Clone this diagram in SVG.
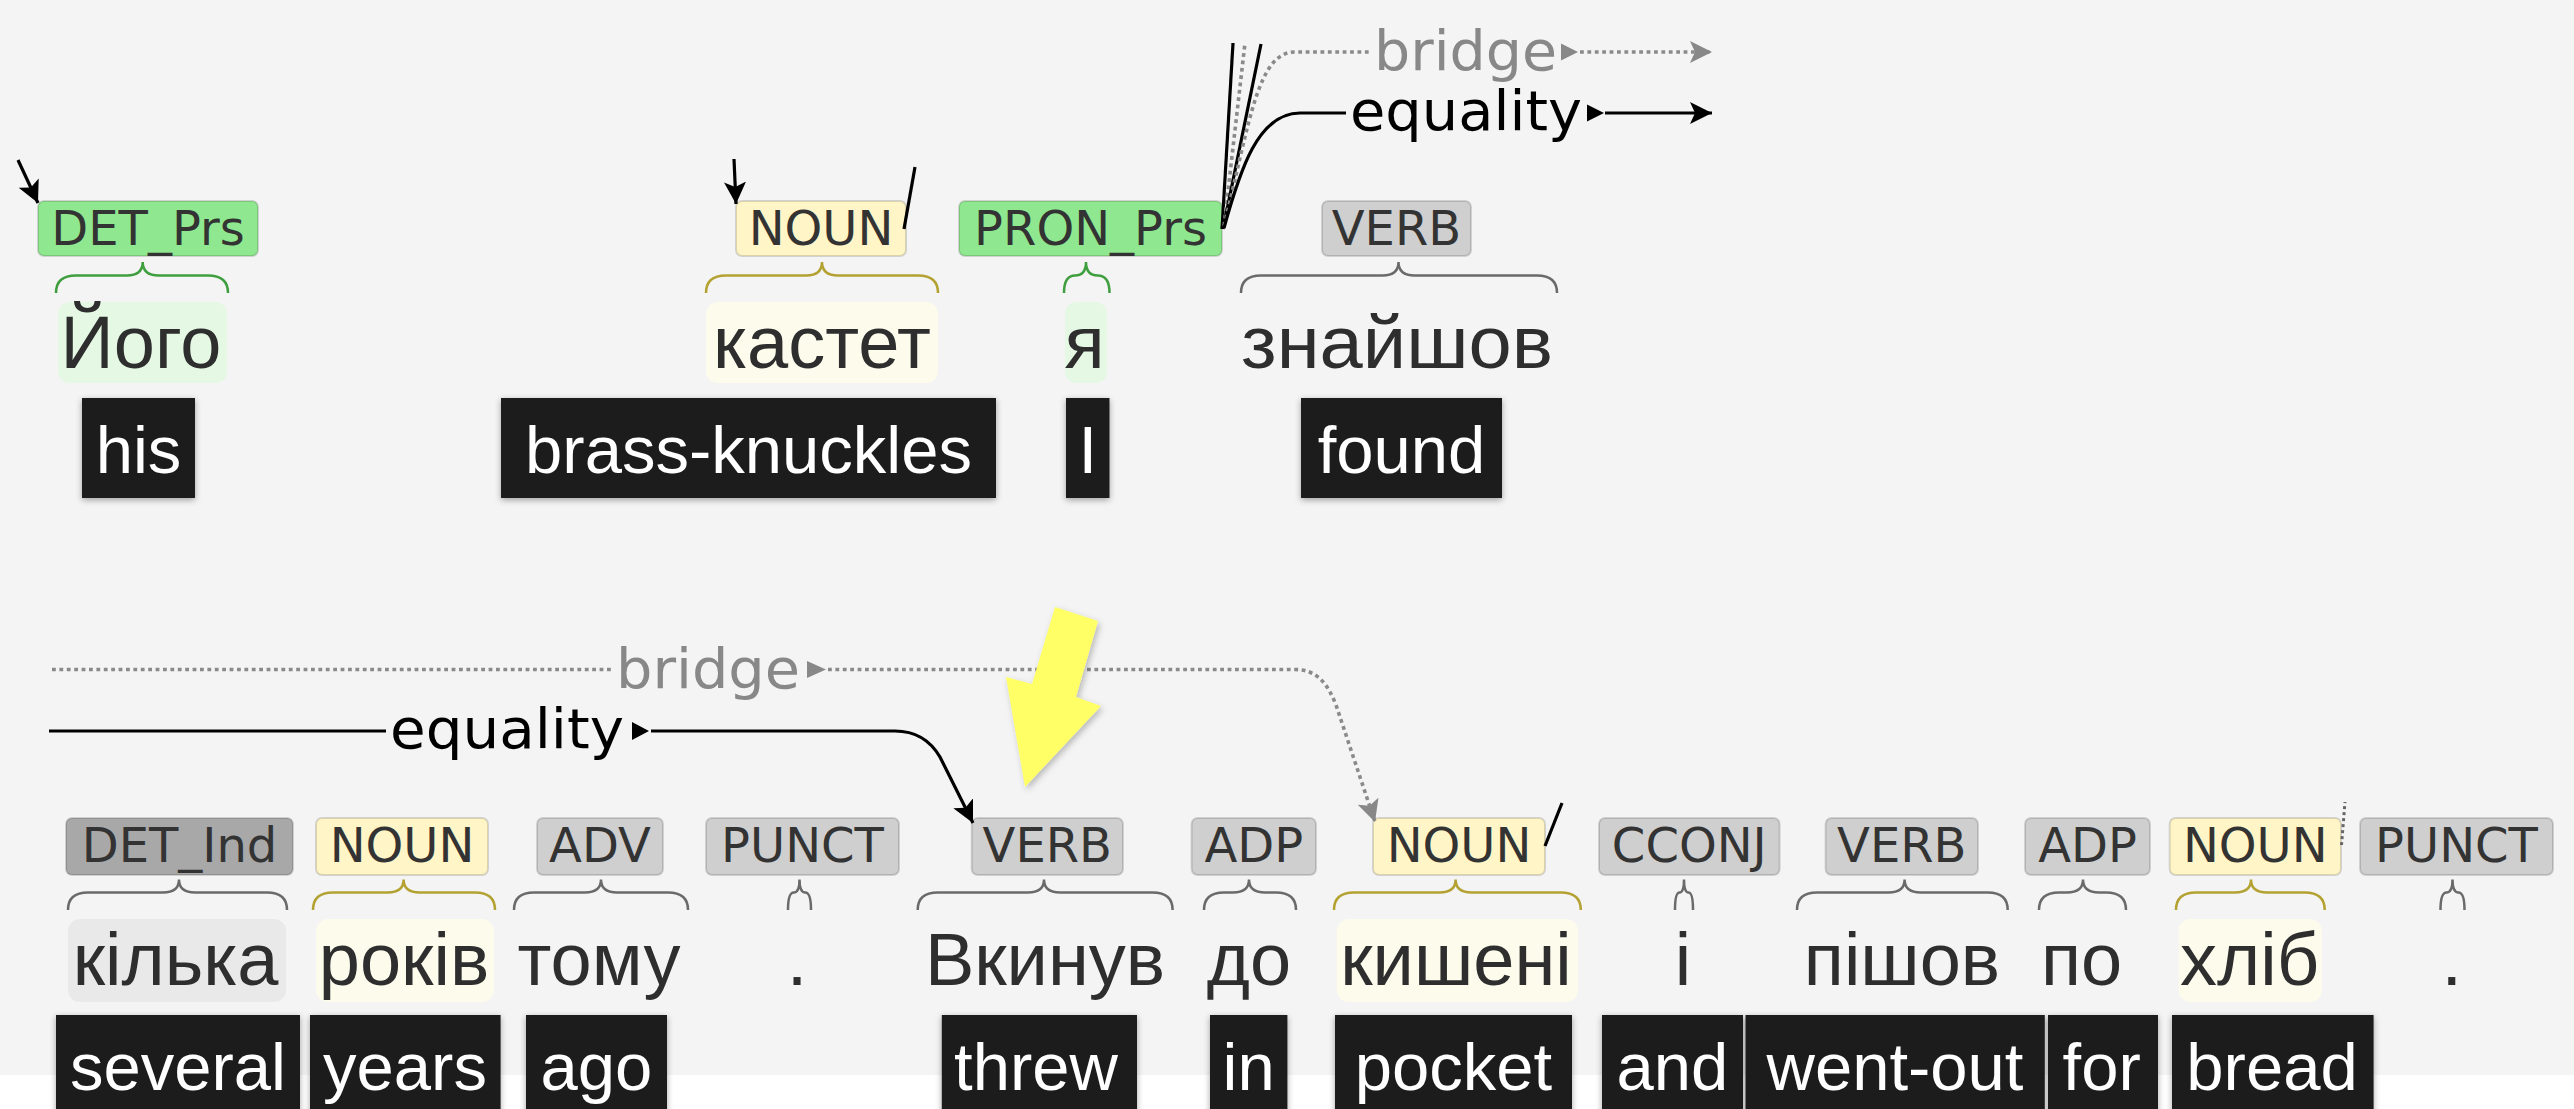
<svg xmlns="http://www.w3.org/2000/svg" width="2574" height="1109" viewBox="0 0 2574 1109">
<defs>
<style>
.lbl{font-family:"DejaVu Sans",Verdana,sans-serif;font-size:48px;fill:#333;text-anchor:middle}
.word{font-family:"Liberation Sans",Arial,sans-serif;font-size:74px;fill:#2e2e2e;text-anchor:middle}
.gl{font-family:"Liberation Sans",Arial,sans-serif;font-size:67px;fill:#fff;text-anchor:middle}
.glbox{fill:#1f1f1f;filter:url(#sh)}
.box{stroke:#000;stroke-opacity:.14;stroke-width:2}
.cg{fill:#8fe88f}.cy{fill:#fff5c6}.cn{fill:#cfcfcf}.cd{fill:#a8a8a8}
.wg{fill:#e4f8e4}.wy{fill:#fcfbec}.wd{fill:#e9e9e9}
.br{fill:none;stroke-width:2.5}
.bg{stroke:#3f9f3f}.by{stroke:#b3a232}.bn{stroke:#6a6a6a}
.arc{font-family:"DejaVu Sans",Verdana,sans-serif;font-size:56px}
.solid{fill:none;stroke:#000;stroke-width:3.2}
.dot{fill:none;stroke:#8a8a8a;stroke-width:3.6;stroke-dasharray:3.8 3.6}
</style>
<filter id="sh" x="-20%" y="-20%" width="140%" height="150%"><feDropShadow dx="0" dy="2" stdDeviation="3" flood-color="#000" flood-opacity="0.35"/></filter>
<filter id="sh2" x="-30%" y="-30%" width="160%" height="160%"><feDropShadow dx="2" dy="3" stdDeviation="3" flood-color="#000" flood-opacity="0.25"/></filter>
<marker id="ah" markerUnits="userSpaceOnUse" markerWidth="24" markerHeight="22" refX="22" refY="11" orient="auto"><path d="M0,0 L22,11 L0,22 L5,11 z" fill="#000"/></marker>
<marker id="ahg" markerUnits="userSpaceOnUse" markerWidth="24" markerHeight="22" refX="22" refY="11" orient="auto"><path d="M0,0 L22,11 L0,22 L5,11 z" fill="#888"/></marker>
</defs>
<rect x="0" y="0" width="2574" height="1075" fill="#f4f4f4"/>
<rect x="0" y="1075" width="2574" height="34" fill="#fff"/>

<!-- top row -->
<g id="t1">
<rect class="box cg" x="38" y="201" width="220" height="55" rx="6"/>
<text class="lbl" x="148" y="245">DET_Prs</text>
<path class="br bg" d="M56,293 Q56,275.5 76,275.5 L126.7,275.5 Q142.7,275.5 142.7,262 Q142.7,275.5 158.7,275.5 L208,275.5 Q228,275.5 228,293"/>
<rect class="wg" x="58" y="302" width="169" height="81" rx="12"/>
<text class="word" x="141" y="368">Його</text>
<rect class="glbox" x="82" y="398" width="113" height="100"/>
<text class="gl" x="138.5" y="473">his</text>
</g>
<g id="t2">
<rect class="box cy" x="736" y="201" width="170" height="55" rx="6"/>
<text class="lbl" x="821" y="245">NOUN</text>
<path class="br by" d="M706,293 Q706,275.5 726,275.5 L806,275.5 Q822,275.5 822,262 Q822,275.5 838,275.5 L918,275.5 Q938,275.5 938,293"/>
<rect class="wy" x="706" y="302" width="232" height="81" rx="12"/>
<text class="word" x="822" y="368">кастет</text>
<rect class="glbox" x="501" y="398" width="495" height="100"/>
<text class="gl" x="748.5" y="473">brass-knuckles</text>
</g>
<g id="t3">
<rect class="box cg" x="959" y="201" width="263" height="55" rx="6"/>
<text class="lbl" x="1090.5" y="245">PRON_Prs</text>
<path class="br bg" d="M1064,293 Q1064,275.5 1075,275.5 Q1086,275.5 1086,262 Q1086,275.5 1097.75,275.5 Q1109.5,275.5 1109.5,293"/>
<rect class="wg" x="1065" y="302" width="42" height="81" rx="12"/>
<text class="word" x="1084.5" y="368">я</text>
<rect class="glbox" x="1066" y="398" width="43.5" height="100"/>
<text class="gl" x="1087.75" y="473">I</text>
</g>
<g id="t4">
<rect class="box cn" x="1322" y="201" width="149" height="55" rx="6"/>
<text class="lbl" x="1396.5" y="245">VERB</text>
<path class="br bn" d="M1241,293 Q1241,275.5 1261,275.5 L1382.5,275.5 Q1398.5,275.5 1398.5,262 Q1398.5,275.5 1414.5,275.5 L1537,275.5 Q1557,275.5 1557,293"/>
<text class="word" x="1397" y="368" textLength="312" lengthAdjust="spacingAndGlyphs">знайшов</text>
<rect class="glbox" x="1301" y="398" width="201" height="100"/>
<text class="gl" x="1401.5" y="473">found</text>
</g>

<!-- bottom row -->
<g id="b1">
<rect class="box cd" x="66" y="818" width="227" height="57" rx="6"/>
<text class="lbl" x="179.5" y="862">DET_Ind</text>
<path class="br bn" d="M68,910 Q68,892.5 88,892.5 L163,892.5 Q179,892.5 179,879.5 Q179,892.5 195,892.5 L267,892.5 Q287,892.5 287,910"/>
<rect class="wd" x="68" y="919" width="218" height="83" rx="12"/>
<text class="word" x="175.5" y="985">кілька</text>
<rect class="glbox" x="56" y="1015" width="244" height="100"/>
<text class="gl" x="178" y="1090">several</text>
</g>
<g id="b2">
<rect class="box cy" x="316" y="818" width="172" height="57" rx="6"/>
<text class="lbl" x="402" y="862">NOUN</text>
<path class="br by" d="M313,910 Q313,892.5 333,892.5 L387.6,892.5 Q403.6,892.5 403.6,879.5 Q403.6,892.5 419.6,892.5 L475,892.5 Q495,892.5 495,910"/>
<rect class="wy" x="316" y="919" width="178" height="83" rx="12"/>
<text class="word" x="404" y="985">років</text>
<rect class="glbox" x="310" y="1015" width="190.6" height="100"/>
<text class="gl" x="405" y="1090">years</text>
</g>
<g id="b3">
<rect class="box cn" x="537" y="818" width="126" height="57" rx="6"/>
<text class="lbl" x="600" y="862">ADV</text>
<path class="br bn" d="M514,910 Q514,892.5 534,892.5 L585,892.5 Q601,892.5 601,879.5 Q601,892.5 617,892.5 L668,892.5 Q688,892.5 688,910"/>
<text class="word" x="599" y="985">тому</text>
<rect class="glbox" x="526" y="1015" width="141" height="100"/>
<text class="gl" x="596.5" y="1090">ago</text>
</g>
<g id="b4">
<rect class="box cn" x="706" y="818" width="193" height="57" rx="6"/>
<text class="lbl" x="802.5" y="862">PUNCT</text>
<path class="br bn" d="M788,910 Q788,892.5 793.75,892.5 Q799.5,892.5 799.5,879.5 Q799.5,892.5 805.25,892.5 Q811,892.5 811,910"/>
<text class="word" x="797" y="985">.</text>
</g>
<g id="b5">
<rect class="box cn" x="971.7" y="818" width="151.3" height="57" rx="6"/>
<text class="lbl" x="1047.3" y="862">VERB</text>
<path class="br bn" d="M917.7,910 Q917.7,892.5 937.7,892.5 L1028,892.5 Q1044,892.5 1044,879.5 Q1044,892.5 1060,892.5 L1152.6,892.5 Q1172.6,892.5 1172.6,910"/>
<text class="word" x="1045" y="985">Вкинув</text>
<rect class="glbox" x="941.8" y="1015" width="195.2" height="100"/>
<text class="gl" x="1036" y="1090">threw</text>
</g>
<g id="b6">
<rect class="box cn" x="1191.6" y="818" width="124.4" height="57" rx="6"/>
<text class="lbl" x="1253.8" y="862">ADP</text>
<path class="br bn" d="M1204,910 Q1204,892.5 1224,892.5 L1233,892.5 Q1249,892.5 1249,879.5 Q1249,892.5 1265,892.5 L1276,892.5 Q1296,892.5 1296,910"/>
<text class="word" x="1249" y="985">до</text>
<rect class="glbox" x="1210" y="1015" width="77.4" height="100"/>
<text class="gl" x="1248.7" y="1090">in</text>
</g>
<g id="b7">
<rect class="box cy" x="1373" y="818" width="172" height="57" rx="6"/>
<text class="lbl" x="1459" y="862">NOUN</text>
<path class="br by" d="M1334,910 Q1334,892.5 1354,892.5 L1439.6,892.5 Q1455.6,892.5 1455.6,879.5 Q1455.6,892.5 1471.6,892.5 L1560.8,892.5 Q1580.8,892.5 1580.8,910"/>
<rect class="wy" x="1336.8" y="919" width="241.2" height="83" rx="12"/>
<text class="word" x="1456" y="985">кишені</text>
<rect class="glbox" x="1335" y="1015" width="237" height="100"/>
<text class="gl" x="1453.5" y="1090">pocket</text>
</g>
<g id="b8">
<rect class="box cn" x="1599" y="818" width="180.6" height="57" rx="6"/>
<text class="lbl" x="1689.3" y="862">CCONJ</text>
<path class="br bn" d="M1675,910 Q1675,892.5 1679.5,892.5 Q1684,892.5 1684,879.5 Q1684,892.5 1688.5,892.5 Q1693,892.5 1693,910"/>
<text class="word" x="1683" y="985">і</text>
<rect class="glbox" x="1602" y="1015" width="141" height="100"/>
<text class="gl" x="1672.5" y="1090">and</text>
</g>
<g id="b9">
<rect class="box cn" x="1825.6" y="818" width="152.4" height="57" rx="6"/>
<text class="lbl" x="1901.8" y="862">VERB</text>
<path class="br bn" d="M1797,910 Q1797,892.5 1817,892.5 L1888.6,892.5 Q1904.6,892.5 1904.6,879.5 Q1904.6,892.5 1920.6,892.5 L1987.7,892.5 Q2007.7,892.5 2007.7,910"/>
<text class="word" x="1902" y="985">пішов</text>
<rect class="glbox" x="1745.5" y="1015" width="299.3" height="100"/>
<text class="gl" x="1895" y="1090">went-out</text>
</g>
<g id="b10">
<rect class="box cn" x="2025" y="818" width="125" height="57" rx="6"/>
<text class="lbl" x="2087.5" y="862">ADP</text>
<path class="br bn" d="M2039,910 Q2039,892.5 2059,892.5 L2067,892.5 Q2083,892.5 2083,879.5 Q2083,892.5 2099,892.5 L2106,892.5 Q2126,892.5 2126,910"/>
<text class="word" x="2081.5" y="985">по</text>
<rect class="glbox" x="2048" y="1015" width="110" height="100"/>
<text class="gl" x="2101.7" y="1090">for</text>
</g>
<g id="b11">
<rect class="box cy" x="2169.7" y="818" width="171.3" height="57" rx="6"/>
<text class="lbl" x="2255.3" y="862">NOUN</text>
<path class="br by" d="M2176,910 Q2176,892.5 2196,892.5 L2235,892.5 Q2251,892.5 2251,879.5 Q2251,892.5 2267,892.5 L2304.7,892.5 Q2324.7,892.5 2324.7,910"/>
<rect class="wy" x="2178.6" y="919" width="143.2" height="83" rx="12"/>
<text class="word" x="2249.6" y="985">хліб</text>
<rect class="glbox" x="2172" y="1015" width="201.6" height="100"/>
<text class="gl" x="2272" y="1090">bread</text>
</g>
<g id="b12">
<rect class="box cn" x="2360" y="818" width="193" height="57" rx="6"/>
<text class="lbl" x="2456.5" y="862">PUNCT</text>
<path class="br bn" d="M2440.5,910 Q2440.5,892.5 2446.5,892.5 Q2452.5,892.5 2452.5,879.5 Q2452.5,892.5 2458.5,892.5 Q2464.5,892.5 2464.5,910"/>
<text class="word" x="2451.7" y="985">.</text>
</g>

<!-- connectors -->
<g id="connectors">
<path class="solid" d="M18,160 L38,203" marker-end="url(#ah)"/>
<path class="solid" d="M734,159 L736,204" marker-end="url(#ah)"/>
<path class="solid" stroke-width="4" d="M904,229 L915,167"/>
<path class="solid" d="M1222,229 L1233,43"/>
<path class="dot" d="M1224,226 L1245,43"/>
<path class="solid" d="M1223,229 L1261,44"/>
<path class="dot" d="M1224,226 C1250,120 1258,52 1295,52 L1372,52"/>
<path class="solid" d="M1224,228 C1240,170 1258,113 1300,113 L1346,113"/>
<text class="arc" x="1374" y="70" fill="#888" textLength="183" lengthAdjust="spacingAndGlyphs">bridge</text>
<polygon points="1561,43.5 1578,52 1561,60.5" fill="#888"/>
<path class="dot" d="M1580,52 L1712,52" marker-end="url(#ahg)"/>
<text class="arc" x="1350" y="130" fill="#000" textLength="232" lengthAdjust="spacingAndGlyphs">equality</text>
<polygon points="1587,104.5 1604,113 1587,121.5" fill="#000"/>
<path class="solid" d="M1605,113 L1712,113" marker-end="url(#ah)"/>

<path class="dot" d="M52,669.5 L612,669.5"/>
<text class="arc" x="616" y="687.5" fill="#888" textLength="184" lengthAdjust="spacingAndGlyphs">bridge</text>
<polygon points="807,661 826,669.5 807,678" fill="#888"/>
<path class="dot" d="M828,669.5 L1295,669.5 C1318,669.5 1328,685 1336,705 L1375,822" marker-end="url(#ahg)"/>
<path class="solid" d="M49,731 L386,731"/>
<text class="arc" x="390" y="747.5" fill="#000" textLength="234" lengthAdjust="spacingAndGlyphs">equality</text>
<polygon points="632,722 649,731 632,740" fill="#000"/>
<path class="solid" d="M651,731 L895,731 C915,731 930,740 940,757 L973,823" marker-end="url(#ah)"/>
<path class="solid" stroke-width="4" d="M1545,846 L1562,803"/>
<path fill="none" stroke="#666" stroke-width="3" stroke-dasharray="3 3" d="M2341.5,845 L2345,802"/>
</g>

<g id="highlight-arrow">
<polygon points="1055,607 1098,621 1076,697 1101,706 1025,787 1006,677 1032,684" fill="#ffff66" filter="url(#sh2)"/>
</g>
</svg>
